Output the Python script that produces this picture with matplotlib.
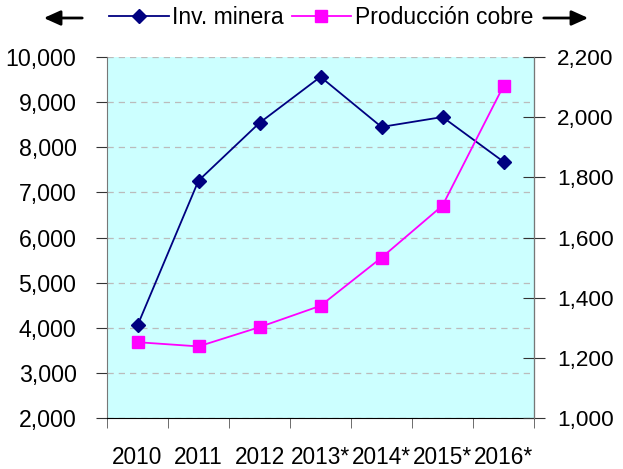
import matplotlib
matplotlib.use("Agg")
import matplotlib.pyplot as plt
from matplotlib.ticker import FuncFormatter, MultipleLocator, FixedLocator
import numpy as np

plt.rcParams['font.family'] = ['Liberation Sans', 'DejaVu Sans']

years = ["2010", "2011", "2012", "2013*", "2014*", "2015*", "2016*"]
inv_minera = [4050, 7260, 8540, 9560, 8450, 8670, 7680]
prod_cobre = [1252, 1238, 1302, 1373, 1533, 1706, 2104]

fig = plt.figure(figsize=(6.23, 4.69), dpi=100)
ax = fig.add_axes([107/623, 1-418/469, (534-107)/623, (418-57)/469])
ax2 = ax.twinx()

x = np.arange(len(years))
ax.set_facecolor('#CCFFFF')
l1, = ax.plot(x, inv_minera, color='#000080', marker='D', markersize=7.5, lw=1.3, label='Inv. minera')
l2, = ax2.plot(x, prod_cobre, color='#FF00FF', marker='s', markersize=8, lw=1.3, label='Producción cobre')

ax.set_xlim(-0.5, len(years)-0.5)
ax.set_ylim(2000, 10000)
ax2.set_ylim(1000, 2200)
ax.yaxis.set_major_locator(MultipleLocator(1000))
ax2.yaxis.set_major_locator(MultipleLocator(200))
fmt = FuncFormatter(lambda v, p: f"{int(v):,}")
ax.yaxis.set_major_formatter(fmt)
ax2.yaxis.set_major_formatter(fmt)

ax.yaxis.grid(True, color='#BBBBBB', linestyle=(0, (5, 4)), lw=0.9)
ax.set_axisbelow(True)

ax.set_xticks(x)
ax.set_xticklabels(years)
ax.xaxis.set_minor_locator(FixedLocator(np.arange(-0.5, len(years), 1.0)))
ax.tick_params(axis='x', which='major', length=0, pad=20, labelsize=16.3)
ax.tick_params(axis='x', which='minor', length=7, color='#555555', direction='out')
ax.tick_params(axis='y', length=8, color='#333333', labelsize=16.7, pad=14)
ax2.tick_params(axis='y', length=16, direction='inout', color='#333333', labelsize=16.2, pad=8.6)

for s in ['top']:
    ax.spines[s].set_visible(False)
    ax2.spines[s].set_visible(False)
ax.spines['left'].set_color('#777777')
ax2.spines['left'].set_visible(False)
ax2.spines['right'].set_color('#777777')
ax.spines['bottom'].set_color('black')
ax2.spines['bottom'].set_visible(False)

fig.legend(handles=[l1, l2], loc='center', bbox_to_anchor=(321/623, 1-18/469),
           ncol=2, frameon=False, fontsize=16.5, handlelength=2.6,
           handletextpad=0.15, columnspacing=0.35, borderaxespad=0, borderpad=0)

fig.patches.append(matplotlib.patches.FancyArrowPatch(
    (85/623, 1-18/469), (41/623, 1-18/469), transform=fig.transFigure,
    arrowstyle='-|>,head_length=10,head_width=4.5', color='black', lw=2, mutation_scale=1))
fig.patches.append(matplotlib.patches.FancyArrowPatch(
    (541/623, 1-18/469), (591/623, 1-18/469), transform=fig.transFigure,
    arrowstyle='-|>,head_length=10,head_width=4.5', color='black', lw=2, mutation_scale=1))

fig.savefig('out.png', dpi=100)
